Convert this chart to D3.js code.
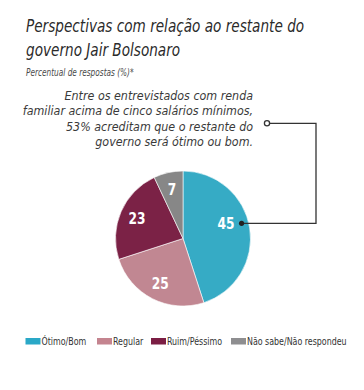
<!DOCTYPE html>
<html><head><meta charset="utf-8">
<script src="https://cdn.jsdelivr.net/npm/d3@7"></script>
<style>
html,body{margin:0;padding:0;background:#fff;}
svg{display:block;}
</style></head>
<body>
<svg id="chart" width="364" height="390"></svg>
<script>
const categories = ["Ótimo/Bom", "Regular", "Ruim/Péssimo", "Não sabe/Não respondeu"];
const values = [45, 25, 23, 7];
const colors = ["#36abc5", "#c18792", "#7b2246", "#878787"];
const legendColors = ["#2aa8c7", "#c4848f", "#7b1e44", "#8e8e90"];
const titleLines = ["Perspectivas com relação ao restante do", "governo Jair Bolsonaro"];
const subtitle = "Percentual de respostas (%)*";
const noteLines = ["Entre os entrevistados com renda", "familiar acima de cinco salários mínimos,", "53% acreditam que o restante do", "governo será ótimo ou bom."];

const svg = d3.select("#chart");
const font = "'DejaVu Sans Condensed', sans-serif";

// Title
svg.append("g").selectAll("g").data(titleLines).join("g")
  .attr("transform", (d, i) => `translate(26,${31.5 + i * 24}) scale(0.865,1)`)
  .append("text")
  .attr("font-family", font)
  .attr("font-style", "italic")
  .attr("font-size", 17.5)
  .attr("fill", "#2b2b2b")
  .text(d => d);

svg.append("g").attr("transform", "translate(26,76) scale(0.82,1)")
  .append("text")
  .attr("font-family", font).attr("font-style", "italic")
  .attr("font-size", 10).attr("fill", "#4a4a4a").text(subtitle);

// Note
svg.append("g").selectAll("g").data(noteLines).join("g")
  .attr("transform", (d, i) => `translate(253,${99.5 + i * 15.5}) scale(1.03,1)`)
  .append("text")
  .attr("text-anchor", "end")
  .attr("font-family", font).attr("font-style", "italic")
  .attr("font-size", 12).attr("fill", "#3a3a3a")
  .text(d => d);

// Pie
const cx = 183, cy = 238.5, R = 67.5;
const pie = d3.pie().sort(null).value(d => d)(values);
const arc = d3.arc().innerRadius(0).outerRadius(R);
const labelArc = d3.arc().innerRadius(50).outerRadius(50);
const g = svg.append("g").attr("transform", `translate(${cx},${cy})`);
g.selectAll("path").data(pie).join("path")
  .attr("d", arc).attr("fill", (d, i) => colors[i])
  .attr("stroke", "#fff").attr("stroke-width", 0.6);

// Callout on first slice
const first = pie[0];
const dotAngle = first.startAngle + (first.endAngle - first.startAngle) * 0.466;
const dotR = 60.5;
const dot = [Math.sin(dotAngle) * dotR, -Math.cos(dotAngle) * dotR];
const lineX = 316 - cx, topY = 123.3 - cy, circX = 267 - cx;
g.append("path")
  .attr("d", `M${dot[0]},${dot[1]}H${lineX}V${topY}H${circX + 2.5}`)
  .attr("fill", "none").attr("stroke", "#333").attr("stroke-width", 1.3);
g.append("circle").attr("cx", dot[0]).attr("cy", dot[1]).attr("r", 2.6).attr("fill", "#222");
g.append("circle").attr("cx", circX).attr("cy", topY).attr("r", 2.6)
  .attr("fill", "#fff").attr("stroke", "#333").attr("stroke-width", 1.3);

g.selectAll("g.lbl").data(pie).join("g").attr("class", "lbl")
  .attr("transform", (d, i) => {
    const x = i === 0 ? dot[0] - 7 : labelArc.centroid(d)[0];
    const y = i === 0 ? dot[1] + 5.5 : labelArc.centroid(d)[1] + 5.5;
    return `translate(${x},${y}) scale(0.85,1)`;
  })
  .append("text")
  .attr("text-anchor", (d, i) => i === 0 ? "end" : "middle")
  .attr("font-family", font).attr("font-weight", "bold")
  .attr("font-size", 16).attr("fill", "#fff")
  .text(d => d.data);

// Legend
const legendX = [25.5, 97, 151, 231];
const lg = svg.append("g").selectAll("g").data(categories).join("g")
  .attr("transform", (d, i) => `translate(${legendX[i]},338)`);
lg.append("rect").attr("width", 15).attr("height", 6.5).attr("fill", (d, i) => legendColors[i]);
lg.append("g").attr("transform", "translate(16,7.3) scale(0.8,1)")
  .append("text")
  .attr("font-family", font).attr("font-size", 11).attr("fill", "#333")
  .text(d => d);
</script>
</body></html>
